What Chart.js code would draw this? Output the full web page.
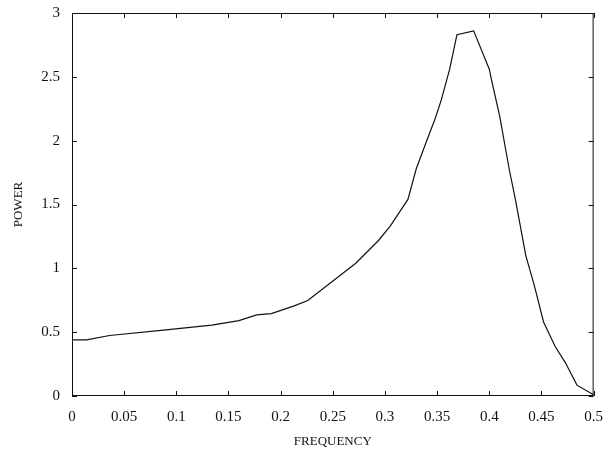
<!DOCTYPE html>
<html>
<head>
<meta charset="utf-8">
<script src="https://cdn.jsdelivr.net/npm/chart.js@4/dist/chart.umd.min.js"></script>
<style>
  html, body { margin: 0; padding: 0; background: #fff; }
  #wrap { width: 607px; height: 450px; }
</style>
</head>
<body>
<div id="wrap"><canvas id="spec"></canvas></div>
<script>
// spectrum
var freq  = [0, 0.014, 0.036, 0.09, 0.134, 0.16, 0.177, 0.191, 0.213, 0.226,
             0.272, 0.294, 0.305, 0.322, 0.33, 0.34, 0.348, 0.354, 0.362, 0.369,
             0.385, 0.4, 0.402, 0.41, 0.419, 0.425, 0.435, 0.443, 0.452, 0.463,
             0.473, 0.484, 0.5];
var power = [0.44, 0.44, 0.474, 0.518, 0.555, 0.59, 0.635, 0.645, 0.706, 0.748,
             1.04, 1.22, 1.33, 1.54, 1.78, 2.0, 2.17, 2.32, 2.56, 2.83,
             2.86, 2.56, 2.48, 2.19, 1.78, 1.54, 1.1, 0.87, 0.58, 0.39,
             0.26, 0.085, 0.01];

var xTicks = [0, 0.05, 0.1, 0.15, 0.2, 0.25, 0.3, 0.35, 0.4, 0.45, 0.5];
var xTickLabels = ['0', '0.05', '0.1', '0.15', '0.2', '0.25', '0.3', '0.35', '0.4', '0.45', '0.5'];
var yTicks = [0, 0.5, 1, 1.5, 2, 2.5, 3];
var yTickLabels = ['0', '0.5', '1', '1.5', '2', '2.5', '3'];

var serif = "'Liberation Serif', 'DejaVu Serif', serif";

// matlab style box with inward ticks on all four sides
var boxTicks = {
  id: 'boxTicks',
  afterDraw: function(chart) {
    var ctx = chart.ctx, a = chart.chartArea;
    var xs = chart.scales.x, ys = chart.scales.y;
    var len = 5;
    ctx.save();
    ctx.strokeStyle = '#111';
    ctx.lineWidth = 1;
    ctx.strokeRect(a.left + 0.5, a.top + 0.5, a.right - a.left - 1, a.bottom - a.top - 1);
    ctx.beginPath();
    xTicks.forEach(function(v) {
      var px = Math.round(xs.getPixelForValue(v)) + 0.5;
      ctx.moveTo(px, a.bottom); ctx.lineTo(px, a.bottom - len);
      ctx.moveTo(px, a.top); ctx.lineTo(px, a.top + len);
    });
    yTicks.forEach(function(v) {
      var py = Math.round(ys.getPixelForValue(v)) + 0.5;
      ctx.moveTo(a.left, py); ctx.lineTo(a.left + len, py);
      ctx.moveTo(a.right, py); ctx.lineTo(a.right - len, py);
    });
    ctx.stroke();
    ctx.restore();
  }
};

new Chart(document.getElementById('spec'), {
  type: 'line',
  data: {
    datasets: [{
      data: freq.map(function(f, i) { return { x: f, y: power[i] }; }),
      borderColor: '#111',
      borderWidth: 1.2,
      pointRadius: 0,
      tension: 0,
      fill: false
    }]
  },
  options: {
    responsive: true,
    maintainAspectRatio: false,
    animation: false,
    layout: { padding: { top: 12, right: 7, left: 0, bottom: 0 } },
    plugins: { legend: { display: false }, tooltip: { enabled: false } },
    scales: {
      x: {
        type: 'linear', min: 0, max: 0.5,
        grid: { display: false },
        border: { display: false },
        afterBuildTicks: function(s) { s.ticks = xTicks.map(function(v) { return { value: v }; }); },
        afterFit: function(s) { s.height = 54; },
        ticks: {
          padding: 4,
          color: '#111',
          font: { family: serif, size: 15 },
          maxRotation: 0,
          callback: function(v) { return xTickLabels[xTicks.indexOf(v)]; }
        },
        title: {
          display: true, text: 'FREQUENCY', color: '#111',
          font: { family: serif, size: 13 },
          padding: { top: 1, bottom: 1 }
        }
      },
      y: {
        type: 'linear', min: 0, max: 3,
        grid: { display: false },
        border: { display: false },
        afterBuildTicks: function(s) { s.ticks = yTicks.map(function(v) { return { value: v }; }); },
        afterFit: function(s) { s.width = 72; },
        ticks: {
          padding: 4,
          color: '#111',
          font: { family: serif, size: 15 },
          callback: function(v) { return yTickLabels[yTicks.indexOf(v)]; }
        },
        title: {
          display: true, text: 'POWER', color: '#111',
          font: { family: serif, size: 13 },
          padding: { top: 11, bottom: 0 }
        }
      }
    }
  },
  plugins: [boxTicks]
});
</script>
</body>
</html>
